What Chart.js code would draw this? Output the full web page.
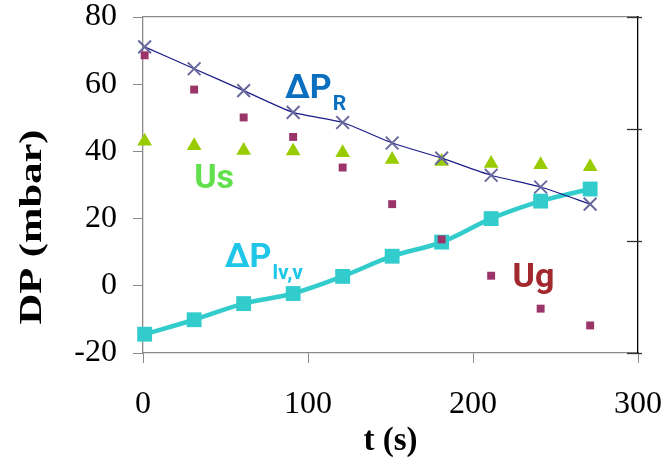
<!DOCTYPE html>
<html>
<head>
<meta charset="utf-8">
<script src="https://cdn.jsdelivr.net/npm/chart.js@4/dist/chart.umd.min.js"></script>
<style>
  html, body { margin: 0; padding: 0; background: #fff; }
  #wrap { width: 665px; height: 461px; }
</style>
</head>
<body>
<div id="wrap"><canvas id="grafico" width="665" height="461"></canvas></div>
<script>
// ── DATOS ──
var tiempos  = [1, 31, 61, 91, 121, 151, 181, 211, 241, 271];
var dpR      = [71.1, 64.6, 58.1, 51.6, 48.6, 42.5, 38.0, 32.9, 29.4, 24.3];
var ug       = [68.6, 58.4, 50.1, 44.3, 35.2, 24.3, 13.8, 3.0, -6.8, -11.8];
var us       = [43.0, 41.7, 40.3, 40.1, 39.6, 37.6, 37.0, 36.4, 36.0, 35.4];
var dpLvv    = [-14.4, -10.1, -5.3, -2.3, 2.8, 8.8, 13.0, 20.0, 25.2, 28.8];
var xTicks   = [0, 100, 200, 300];
var yTicks   = [-20, 0, 20, 40, 60, 80];

// etiquetas dentro del gráfico (posición en unidades de datos)
var etiquetas = [
  {texto: 'ΔP', sub: 'R',    t: 86,  v: 55.8, color: '#0b6fbf'},
  {texto: 'Us', sub: '',     t: 31,  v: 29.0, color: '#62df4c'},
  {texto: 'ΔP', sub: 'lv,v', t: 49.5, v: 5.6, color: '#1fc6e8'},
  {texto: 'Ug', sub: '',     t: 224, v: -0.4, color: '#a2282e'}
];

function puntos(ys) {
  return tiempos.map(function(t, i) { return {x: t, y: ys[i]}; });
}

var serif = "'Liberation Serif', 'Times New Roman', serif";
var sans  = "Roboto, 'Liberation Sans', Arial, sans-serif";

// sin relleno extra por etiquetas que sobresalen
function sinPadding(s) {
  s.paddingTop = 0; s.paddingBottom = 0; s.paddingLeft = 0; s.paddingRight = 0;
}

var pluginTextos = {
  id: 'textos',
  afterDatasetsDraw: function(chart) {
    var ctx = chart.ctx;
    var sx = chart.scales.x, sy = chart.scales.y;
    ctx.save();
    ctx.textBaseline = 'alphabetic';
    ctx.textAlign = 'left';
    etiquetas.forEach(function(e) {
      var px = sx.getPixelForValue(e.t);
      var py = sy.getPixelForValue(e.v);
      ctx.fillStyle = e.color;
      ctx.font = 'bold 34px ' + sans;
      ctx.fillText(e.texto, px, py);
      if (e.sub) {
        var w = ctx.measureText(e.texto).width;
        ctx.font = 'bold 21px ' + sans;
        ctx.fillText(e.sub, px + w + 1, py + 12);
      }
    });
    ctx.restore();
  },
  afterDraw: function(chart) {
    var ctx = chart.ctx;
    // marcas del eje derecho (cruzan el eje)
    var s2 = chart.scales.y2;
    ctx.save();
    ctx.strokeStyle = '#333';
    ctx.lineWidth = 1.3;
    s2.ticks.forEach(function(tk) {
      var py = Math.round(s2.getPixelForValue(tk.value)) + 0.5;
      ctx.beginPath();
      ctx.moveTo(s2.left - 11, py);
      ctx.lineTo(s2.left + 4, py);
      ctx.stroke();
    });
    ctx.restore();

    // título eje Y
    ctx.save();
    ctx.translate(33, 227);
    ctx.rotate(-Math.PI / 2);
    ctx.scale(1.33, 1);
    ctx.font = 'bold 32px ' + serif;
    ctx.fillStyle = '#000';
    ctx.textAlign = 'center';
    ctx.textBaseline = 'middle';
    ctx.fillText('DP (mbar)', 0, 0);
    ctx.restore();
  }
};

new Chart(document.getElementById('grafico'), {
  type: 'scatter',
  data: {
    datasets: [
      {label: 'Ug', data: puntos(ug), order: 1, showLine: false,
       pointStyle: 'rect', pointRadius: 5.6, backgroundColor: '#9b3468', borderColor: '#9b3468', pointBorderWidth: 0, clip: false},
      {label: 'ΔPR', data: puntos(dpR), order: 2, showLine: true, tension: 0.2,
       borderColor: '#1c1c8a', borderWidth: 1.2,
       pointStyle: 'crossRot', pointRadius: 9, pointBorderColor: '#68689c', pointBorderWidth: 2, pointBackgroundColor: '#68689c', clip: false},
      {label: 'Us', data: puntos(us), order: 3, showLine: false,
       pointStyle: 'triangle', pointRadius: 8.5, backgroundColor: '#99cc00', borderColor: '#99cc00', pointBorderWidth: 0, clip: false},
      {label: 'ΔPlv,v', data: puntos(dpLvv), order: 4, showLine: true, tension: 0.35,
       borderColor: '#33cccc', borderWidth: 4.5,
       pointStyle: 'rect', pointRadius: 10.5, pointBackgroundColor: '#33cccc', pointBorderColor: '#33cccc', pointBorderWidth: 0, clip: false}
    ]
  },
  options: {
    responsive: false,
    animation: false,
    events: [],
    layout: {padding: {top: 17, left: 0, right: 0, bottom: 0}},
    plugins: {legend: {display: false}, tooltip: {enabled: false}},
    scales: {
      x: {
        type: 'linear', position: 'bottom', min: 0, max: 300,
        afterBuildTicks: function(s) { s.ticks = xTicks.map(function(v) { return {value: v}; }); },
        afterFit: function(s) { s.height = 108; sinPadding(s); },
        ticks: {color: '#000', font: {family: serif, size: 32}, padding: 22, maxRotation: 0},
        grid: {drawOnChartArea: false, drawTicks: true, tickLength: 10, color: '#8a8a8a'},
        border: {display: true, color: '#8a8a8a', width: 1.3},
        title: {display: true, text: 't (s)', color: '#000', font: {family: serif, size: 33, weight: 'bold'}, padding: {top: 0, bottom: 0}}
      },
      x2: {
        type: 'linear', position: 'top', min: 0, max: 300,
        afterFit: function(s) { s.height = 0; sinPadding(s); },
        ticks: {display: false},
        grid: {display: false, drawTicks: false},
        border: {display: true, color: '#8a8a8a', width: 1.3}
      },
      y: {
        type: 'linear', position: 'left', min: -20, max: 80,
        afterBuildTicks: function(s) { s.ticks = yTicks.map(function(v) { return {value: v}; }); },
        afterFit: function(s) { s.width = 143; sinPadding(s); },
        ticks: {color: '#000', font: {family: serif, size: 32}, padding: 16},
        grid: {drawOnChartArea: false, drawTicks: true, tickLength: 10, color: '#8a8a8a'},
        border: {display: true, color: '#8a8a8a', width: 1.3}
      },
      y2: {
        type: 'linear', position: 'right', min: 0, max: 3,
        ticks: {display: false, stepSize: 1},
        afterFit: function(s) { s.width = 27; sinPadding(s); },
        grid: {display: true, drawOnChartArea: false, drawTicks: false},
        border: {display: true, color: '#000', width: 1.3}
      }
    }
  },
  plugins: [pluginTextos]
});
</script>
</body>
</html>
